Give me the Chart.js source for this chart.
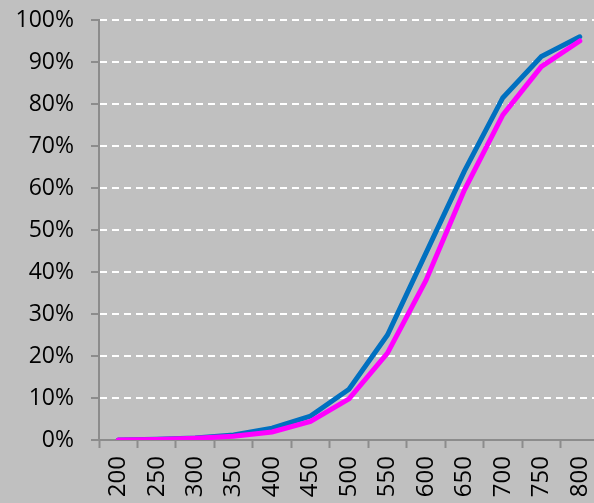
<!DOCTYPE html>
<html>
<head>
<meta charset="utf-8">
<script src="https://cdn.jsdelivr.net/npm/chart.js@4/dist/chart.umd.min.js"></script>
<style>
  html, body { margin: 0; padding: 0; background: #c0c0c0; overflow: hidden; }
  #wrap { width: 600px; height: 515px; }
</style>
</head>
<body>
<div id="wrap"><canvas id="chart" width="600" height="515"></canvas></div>
<script>
// Données (en %)
const categories = ['200', '250', '300', '350', '400', '450', '500', '550', '600', '650', '700', '750', '800'];
const blueValues = [0, 0.2, 0.5, 1.2, 2.8, 5.7, 12.1, 25, 44.5, 64, 81.5, 91.3, 96];
const magentaValues = [0, 0.1, 0.4, 0.9, 1.9, 4.4, 9.8, 20.7, 38, 59.5, 77.4, 88.9, 95];

const ctx = document.getElementById('chart').getContext('2d');

const chart = new Chart(ctx, {
  type: 'line',
  data: {
    labels: categories,
    datasets: [{
      label: 'magenta',
      data: magentaValues,
      borderColor: '#ff00ff',
      borderWidth: 5,
      borderCapStyle: 'round',
      pointRadius: 0,
      tension: 0,
      fill: false
    }, {
      label: 'bleu',
      data: blueValues,
      borderColor: '#0070c0',
      borderWidth: 5,
      borderCapStyle: 'round',
      pointRadius: 0,
      tension: 0,
      fill: false
    }]
  },
  options: {
    responsive: false,
    animation: false,
    layout: { padding: { top: 20, right: 1, left: 0, bottom: 0 } },
    plugins: {
      legend: { display: false },
      tooltip: { enabled: false }
    },
    scales: {
      x: {
        type: 'category',
        offset: true,
        grid: {
          offset: true,
          drawOnChartArea: false,
          drawTicks: true,
          tickLength: 8,
          tickColor: '#8c8c8c',
          tickWidth: 2
        },
        border: { color: '#8c8c8c', width: 2 },
        ticks: {
          color: '#000',
          font: { family: 'Open Sans', size: 24 },
          minRotation: 90,
          maxRotation: 90,
          padding: 8,
          autoSkip: false
        },
        afterFit: function (scale) {
          scale.height = 515 - 440;
          scale.paddingLeft = 0;
          scale.paddingRight = 0;
        }
      },
      y: {
        min: 0,
        max: 100,
        grid: {
          color: '#ffffff',
          lineWidth: 2,
          tickLength: 8,
          tickColor: '#8c8c8c',
          tickWidth: 2
        },
        border: { color: '#8c8c8c', width: 2, dash: [7, 5] },
        ticks: {
          stepSize: 10,
          color: '#000',
          font: { family: 'Open Sans', size: 23 },
          padding: 17,
          callback: value => value + '%'
        },
        afterFit: function (scale) {
          scale.width = 99;
          scale.paddingTop = 0;
          scale.paddingBottom = 0;
        }
      }
    }
  }
});
</script>
</body>
</html>
